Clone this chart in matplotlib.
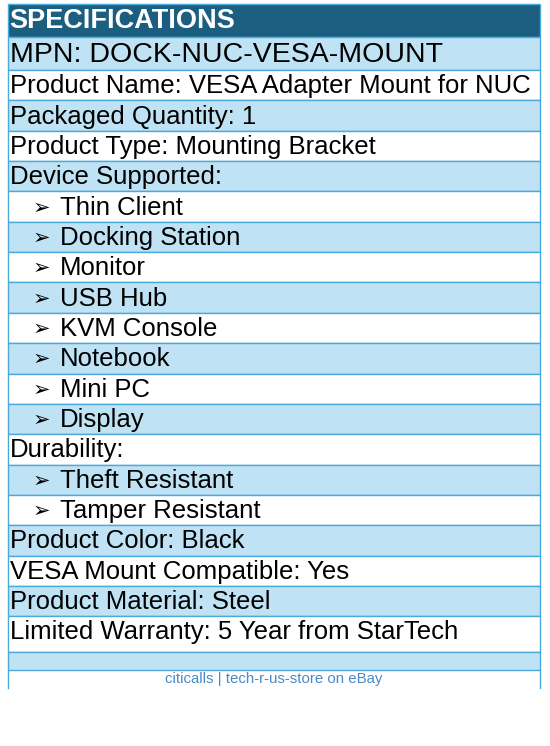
import matplotlib
matplotlib.use("Agg")
import matplotlib.pyplot as plt
from matplotlib.patches import Rectangle

title = "SPECIFICATIONS"
mpn = "MPN: DOCK-NUC-VESA-MOUNT"
rows = ["Product Name: VESA Adapter Mount for NUC", "Packaged Quantity: 1",
        "Product Type: Mounting Bracket", "Device Supported:",
        "➢ Thin Client", "➢ Docking Station", "➢ Monitor", "➢ USB Hub",
        "➢ KVM Console", "➢ Notebook", "➢ Mini PC", "➢ Display",
        "Durability:", "➢ Theft Resistant", "➢ Tamper Resistant",
        "Product Color: Black", "VESA Mount Compatible: Yes",
        "Product Material: Steel", "Limited Warranty: 5 Year from StarTech"]
footer = "citicalls | tech-r-us-store on eBay"

W, H = 550, 746
fig = plt.figure(figsize=(W/100, H/100), dpi=100)
ax = fig.add_axes([0, 0, 1, 1])
ax.set_xlim(0, W); ax.set_ylim(H, 0); ax.axis("off")
FONT = ["Liberation Sans", "DejaVu Sans"]
BLUE = "#bfe3f4"; DARK = "#1b5e80"; EDGE = "#4aaadb"
L, R = 7.5, 539.5

def cell(y0, y1, fc):
    ax.add_patch(Rectangle((L, y0), R-L, y1-y0, facecolor=fc, edgecolor=EDGE, lw=1))

cell(4, 37, DARK)
ax.text(L+2, 21, title, color="white", fontsize=19.5, fontweight="bold", family=FONT, va="center")
cell(37, 70, BLUE)
ax.text(L+2, 55, mpn, color="black", fontsize=20.5, family=FONT, va="center")
y = 70.0
h = 30.35
for i, t in enumerate(rows):
    y1 = y + (h if i < len(rows)-1 else 36)
    cell(y, y1, "white" if i % 2 == 0 else BLUE)
    if t.startswith("➢"):
        ax.text(L + 25, (y+y1)/2 + 1, "➢", color="black", fontsize=15, family=["DejaVu Sans"], va="center")
        ax.text(L + 52, (y+y1)/2 + 1, t[2:], color="black", fontsize=18.5, family=FONT, va="center")
    else:
        ax.text(L + 2, (y+y1)/2 + (-2 if i == len(rows)-1 else 1), t, color="black", fontsize=18.5, family=FONT, va="center")
    y = y1
cell(y, 670, BLUE)
ax.plot([L, L], [670, 688], color=EDGE, lw=1)
ax.plot([R, R], [670, 688], color=EDGE, lw=1)
ax.text((L+R)/2, 679, footer, color="#4a8ac8", fontsize=10.8, family=FONT, ha="center", va="center")
fig.savefig("out.png", dpi=100)
